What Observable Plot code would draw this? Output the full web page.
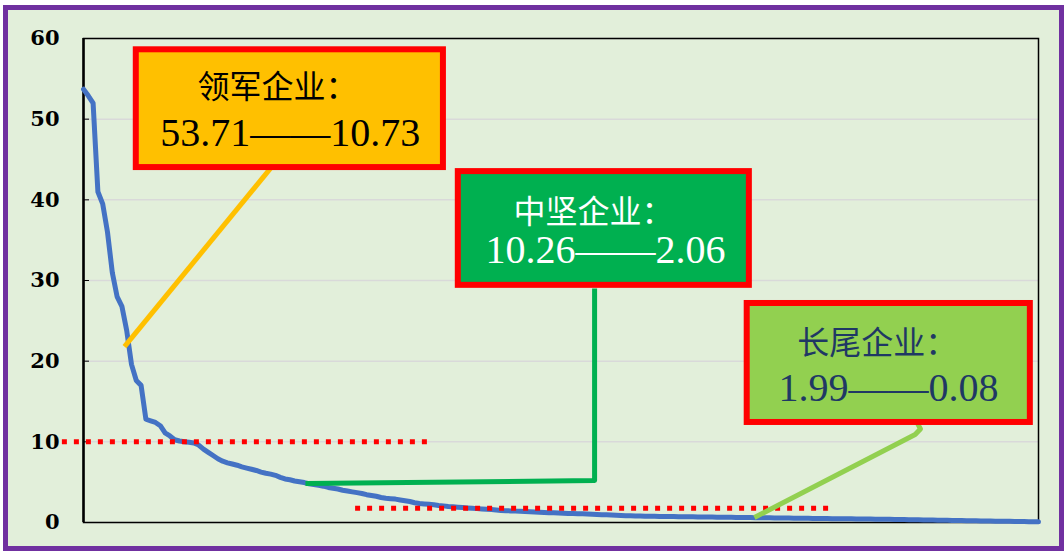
<!DOCTYPE html>
<html><head><meta charset="utf-8">
<script src="https://cdn.jsdelivr.net/npm/d3@7"></script>
<script src="https://cdn.jsdelivr.net/npm/@observablehq/plot@0.6"></script>
<style>
html,body{margin:0;padding:0;background:#fff;}
#frame{position:absolute;left:3px;top:5px;width:1051px;height:536px;border:5px solid #7030A0;background:#E2EFDA;}
#chart{position:absolute;left:0;top:0;}
</style></head><body>
<div id="frame"></div><div id="chart"></div>
<script>
// ---- data ----
const yTicks = [0, 10, 20, 30, 40, 50, 60];
const leaderValues = [53.71, 52.9, 52.0, 41.0, 39.5, 36.0, 31.0, 28.0, 26.8, 23.8, 19.6, 17.6, 17.0, 12.8, 12.6, 12.4, 12.0, 11.1, 10.73];
const midValues = [10.26, 10.1, 10.0, 9.95, 9.85, 9.6, 9.1, 8.7, 8.3, 7.9, 7.6, 7.4, 7.25, 7.1, 6.9, 6.75, 6.6, 6.45, 6.25, 6.1, 6.0, 5.85, 5.6, 5.4, 5.3, 5.15, 5.05, 4.95, 4.8, 4.7, 4.6, 4.5, 4.35, 4.25, 4.15, 4.0, 3.9, 3.8, 3.7, 3.6, 3.45, 3.35, 3.25, 3.1, 3.0, 2.95, 2.9, 2.8, 2.7, 2.6, 2.45, 2.35, 2.3, 2.25, 2.2, 2.12, 2.06];
const tailValues = [1.99, 1.95, 1.9, 1.85, 1.8, 1.76, 1.72, 1.68, 1.64, 1.6, 1.55, 1.5, 1.47, 1.44, 1.41, 1.38, 1.35, 1.33, 1.3, 1.27, 1.25, 1.22, 1.2, 1.18, 1.15, 1.13, 1.11, 1.1, 1.08, 1.05, 1.02, 1.0, 0.97, 0.95, 0.92, 0.9, 0.88, 0.85, 0.83, 0.81, 0.8, 0.78, 0.77, 0.76, 0.75,
  0.74, 0.73, 0.73, 0.72, 0.71, 0.7, 0.7, 0.69, 0.68, 0.68, 0.67, 0.66, 0.66, 0.65, 0.64, 0.63, 0.63, 0.62, 0.61, 0.6,
  0.59, 0.58, 0.58, 0.57, 0.56, 0.55, 0.55, 0.54, 0.53, 0.52, 0.52, 0.51, 0.5, 0.49, 0.49, 0.48, 0.47, 0.46, 0.46, 0.45, 0.44, 0.43, 0.43, 0.42, 0.41, 0.4, 0.4, 0.39, 0.38, 0.37,
  0.36, 0.35, 0.34, 0.33, 0.32, 0.31, 0.3, 0.29, 0.28, 0.27, 0.26, 0.25, 0.24, 0.23, 0.22, 0.21, 0.2, 0.19, 0.18, 0.17, 0.16, 0.15, 0.14, 0.13, 0.12, 0.11, 0.1, 0.09, 0.08];
const groupNames = ["领军企业：", "中坚企业：", "长尾企业："];
const groupRanges = ["53.71——10.73", "10.26——2.06", "1.99——0.08"];
const thresholds = [10, 1.77];

// ---- layout & styles (data units of the chart scales) ----
const values = leaderValues.concat(midValues, tailValues);
const boxFills = ["#FFC000", "#00B050", "#92D050"];
const textFills = ["#000000", "#FFFFFF", "#1F3864"];
const boxPos = [
  {x1: 11.0, x2: 75.0, y1: 44.0, y2: 58.6},
  {x1: 78.1, x2: 138.75, y1: 29.4, y2: 43.5},
  {x1: 138.3, x2: 197.3, y1: 12.4, y2: 27.15}
];
const namePos = [{x: 23.75, y: 53.9}, {x: 89.6, y: 38.4}, {x: 148.75, y: 22.2}];
const rangePos = [{x: 16.0, y: 48.2}, {x: 83.75, y: 33.7}, {x: 144.8, y: 16.6}];
const thresholdSpan = [{x1: -4.4, x2: 71.7}, {x1: 56.7, x2: 156.7}];
const connectorPaths = [
  [[8.54, 21.8], [38.96, 43.9]],
  [[106.5, 29.0], [106.5, 5.2], [46.25, 4.83]],
  [[139.8, 0.62], [173.3, 10.9], [174.4, 11.6], [173.5, 12.6]]
];

const boxes = boxPos.map((p, i) => ({...p, fill: boxFills[i]}));
const nameTexts = groupNames.map((t, i) => ({...namePos[i], text: t, fill: textFills[i]}));
const rangeTexts = groupRanges.map((t, i) => ({...rangePos[i], text: t, fill: textFills[i]}));
const refLines = thresholds.map((y, i) => ({y, ...thresholdSpan[i]}));
const connectors = connectorPaths.flatMap((pts, i) => pts.map(([x, y]) => ({x, y, id: i, color: boxFills[i]})));

const chart = Plot.plot({
  width: 1064, height: 551,
  marginLeft: 83, marginRight: 26, marginTop: 38, marginBottom: 29,
  style: {background: "transparent", overflow: "visible"},
  x: {domain: [0, values.length - 1], axis: null},
  y: {domain: [0, 60]},
  marks: [
    Plot.ruleY(yTicks, {stroke: "#d9d9d9", strokeWidth: 1.5}),
    Plot.frame({stroke: "#000", strokeWidth: 1.5}),
    Plot.ruleX([0], {stroke: "#000", strokeWidth: 2.5}),
    Plot.axisY(yTicks, {tickSize: -6, tickPadding: 30, fontSize: 21, fontWeight: "bold", fontFamily: "DejaVu Serif", color: "#000", stroke: "#000"}),
    Plot.line(values, {x: (d, i) => i, y: d => d, stroke: "#4472C4", strokeWidth: 5, strokeLinejoin: "round"}),
    Plot.ruleY(refLines, {y: "y", x1: "x1", x2: "x2", stroke: "#FF0000", strokeWidth: 5, strokeDasharray: "5,7"}),
    Plot.line(connectors, {x: "x", y: "y", z: "id", stroke: "color", strokeWidth: 5, strokeLinejoin: "round", strokeLinecap: "butt"}),
    Plot.rect(boxes, {x1: "x1", x2: "x2", y1: "y1", y2: "y2", fill: "fill", stroke: "#FF0000", strokeWidth: 6}),
    Plot.text(nameTexts, {x: "x", y: "y", text: "text", fill: "fill", textAnchor: "start", fontSize: 32, fontFamily: "Noto Sans CJK SC"}),
    Plot.text(rangeTexts, {x: "x", y: "y", text: "text", fill: "fill", textAnchor: "start", fontSize: 40, fontFamily: "Liberation Serif, Noto Sans CJK SC"})
  ]
});
document.getElementById("chart").appendChild(chart);
</script></body></html>
